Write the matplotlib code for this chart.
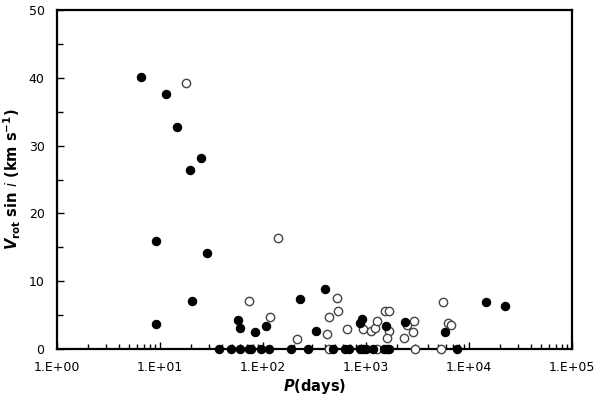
import matplotlib
matplotlib.use("Agg")
import matplotlib.pyplot as plt
from matplotlib.ticker import LogLocator, FixedLocator, MultipleLocator

# Filled symbols (nonzero v sin i)
filled_P = [6.5, 11.4, 14.6, 25, 19.5, 9.1, 28.8, 9.1, 20.4, 57.6, 59.8, 84.2, 107.6,
            229, 400, 327, 908, 874, 1563, 2393, 5890, 14750, 22700]
filled_v = [40.1, 37.6, 32.7, 28.2, 26.4, 15.9, 14.1, 3.7, 7.1, 4.28, 3.14, 2.46, 3.35,
            7.33, 8.89, 2.65, 4.38, 3.79, 3.39, 4.03, 2.55, 6.89, 6.39]
# Filled symbols at v sin i = 0
filled0_P = [37.4, 48.6, 59.8, 73.1, 76.4, 95.7, 115, 186, 272, 482, 626, 689, 875, 929,
             1000, 1178, 1495, 1610, 1683, 7730]
filled0_v = [0.0] * len(filled0_P)

# Open symbols
open_P = [17.9, 140, 72.6, 117, 212, 526, 440, 538, 415, 649, 942, 1112, 1215, 1288,
          1529, 1683, 1683, 1610, 2339, 2485, 2946, 2880, 5560, 6210, 6640]
open_v = [39.3, 16.4, 7.12, 4.67, 1.47, 7.57, 4.76, 5.56, 2.17, 2.95, 2.95, 2.65, 3.04, 4.17,
          5.60, 5.56, 2.65, 1.58, 1.58, 3.54, 4.13, 2.51, 6.98, 3.88, 3.54]
open0_P = [440, 1270, 2990, 5350]
open0_v = [0.0] * len(open0_P)

xticks = [1, 10, 100, 1000, 10000, 100000]
xticklabels = ["1.E+00", "1.E+01", "1.E+02", "1.E+03", "1.E+04", "1.E+05"]
yticks = [0, 10, 20, 30, 40, 50]

fig = plt.figure(figsize=(6.0, 4.03), dpi=100)
ax = fig.add_axes([0.095, 0.134, 0.858, 0.841])

ms = 36
ax.scatter(open_P, open_v, s=ms, facecolors="white", edgecolors="#444444", linewidths=1.0,
           zorder=3, clip_on=False)
ax.scatter(open0_P, open0_v, s=ms, facecolors="white", edgecolors="#444444", linewidths=1.0,
           zorder=3, clip_on=False)
ax.scatter(filled_P, filled_v, s=ms, facecolors="black", edgecolors="black", linewidths=0.8,
           zorder=4, clip_on=False)
ax.scatter(filled0_P, filled0_v, s=ms, facecolors="black", edgecolors="black", linewidths=0.8,
           zorder=4, clip_on=False)

ax.set_xscale("log")
ax.set_xlim(1, 1e5)
ax.set_ylim(0, 50)

ax.xaxis.set_major_locator(FixedLocator(xticks))
ax.set_xticklabels(xticklabels)
ax.xaxis.set_minor_locator(LogLocator(base=10, subs=range(2, 10), numticks=20))
ax.yaxis.set_major_locator(FixedLocator(yticks))
ax.yaxis.set_minor_locator(MultipleLocator(5))

for s in ax.spines.values():
    s.set_linewidth(1.6)
    s.set_color("black")

ax.tick_params(axis="x", which="major", direction="in", length=5, width=1.0, labelsize=9, pad=9)
ax.tick_params(axis="x", which="minor", direction="in", length=3.5, width=1.0)
ax.tick_params(axis="y", which="major", direction="in", length=5, width=1.0, labelsize=9, pad=9)
ax.tick_params(axis="y", which="minor", direction="in", length=4, width=1.0)

ax.set_xlabel(r"$\bfit{P}$" + "(days)", fontsize=10.5, fontweight="bold", labelpad=2)
ax.set_ylabel(r"$\bfit{V}_{\mathbf{rot}}$" + r" sin $\it{i}$ (km s$^{\mathbf{-1}}$)",
              fontsize=10.5, fontweight="bold", labelpad=4)

fig.savefig("out.png", dpi=100)
